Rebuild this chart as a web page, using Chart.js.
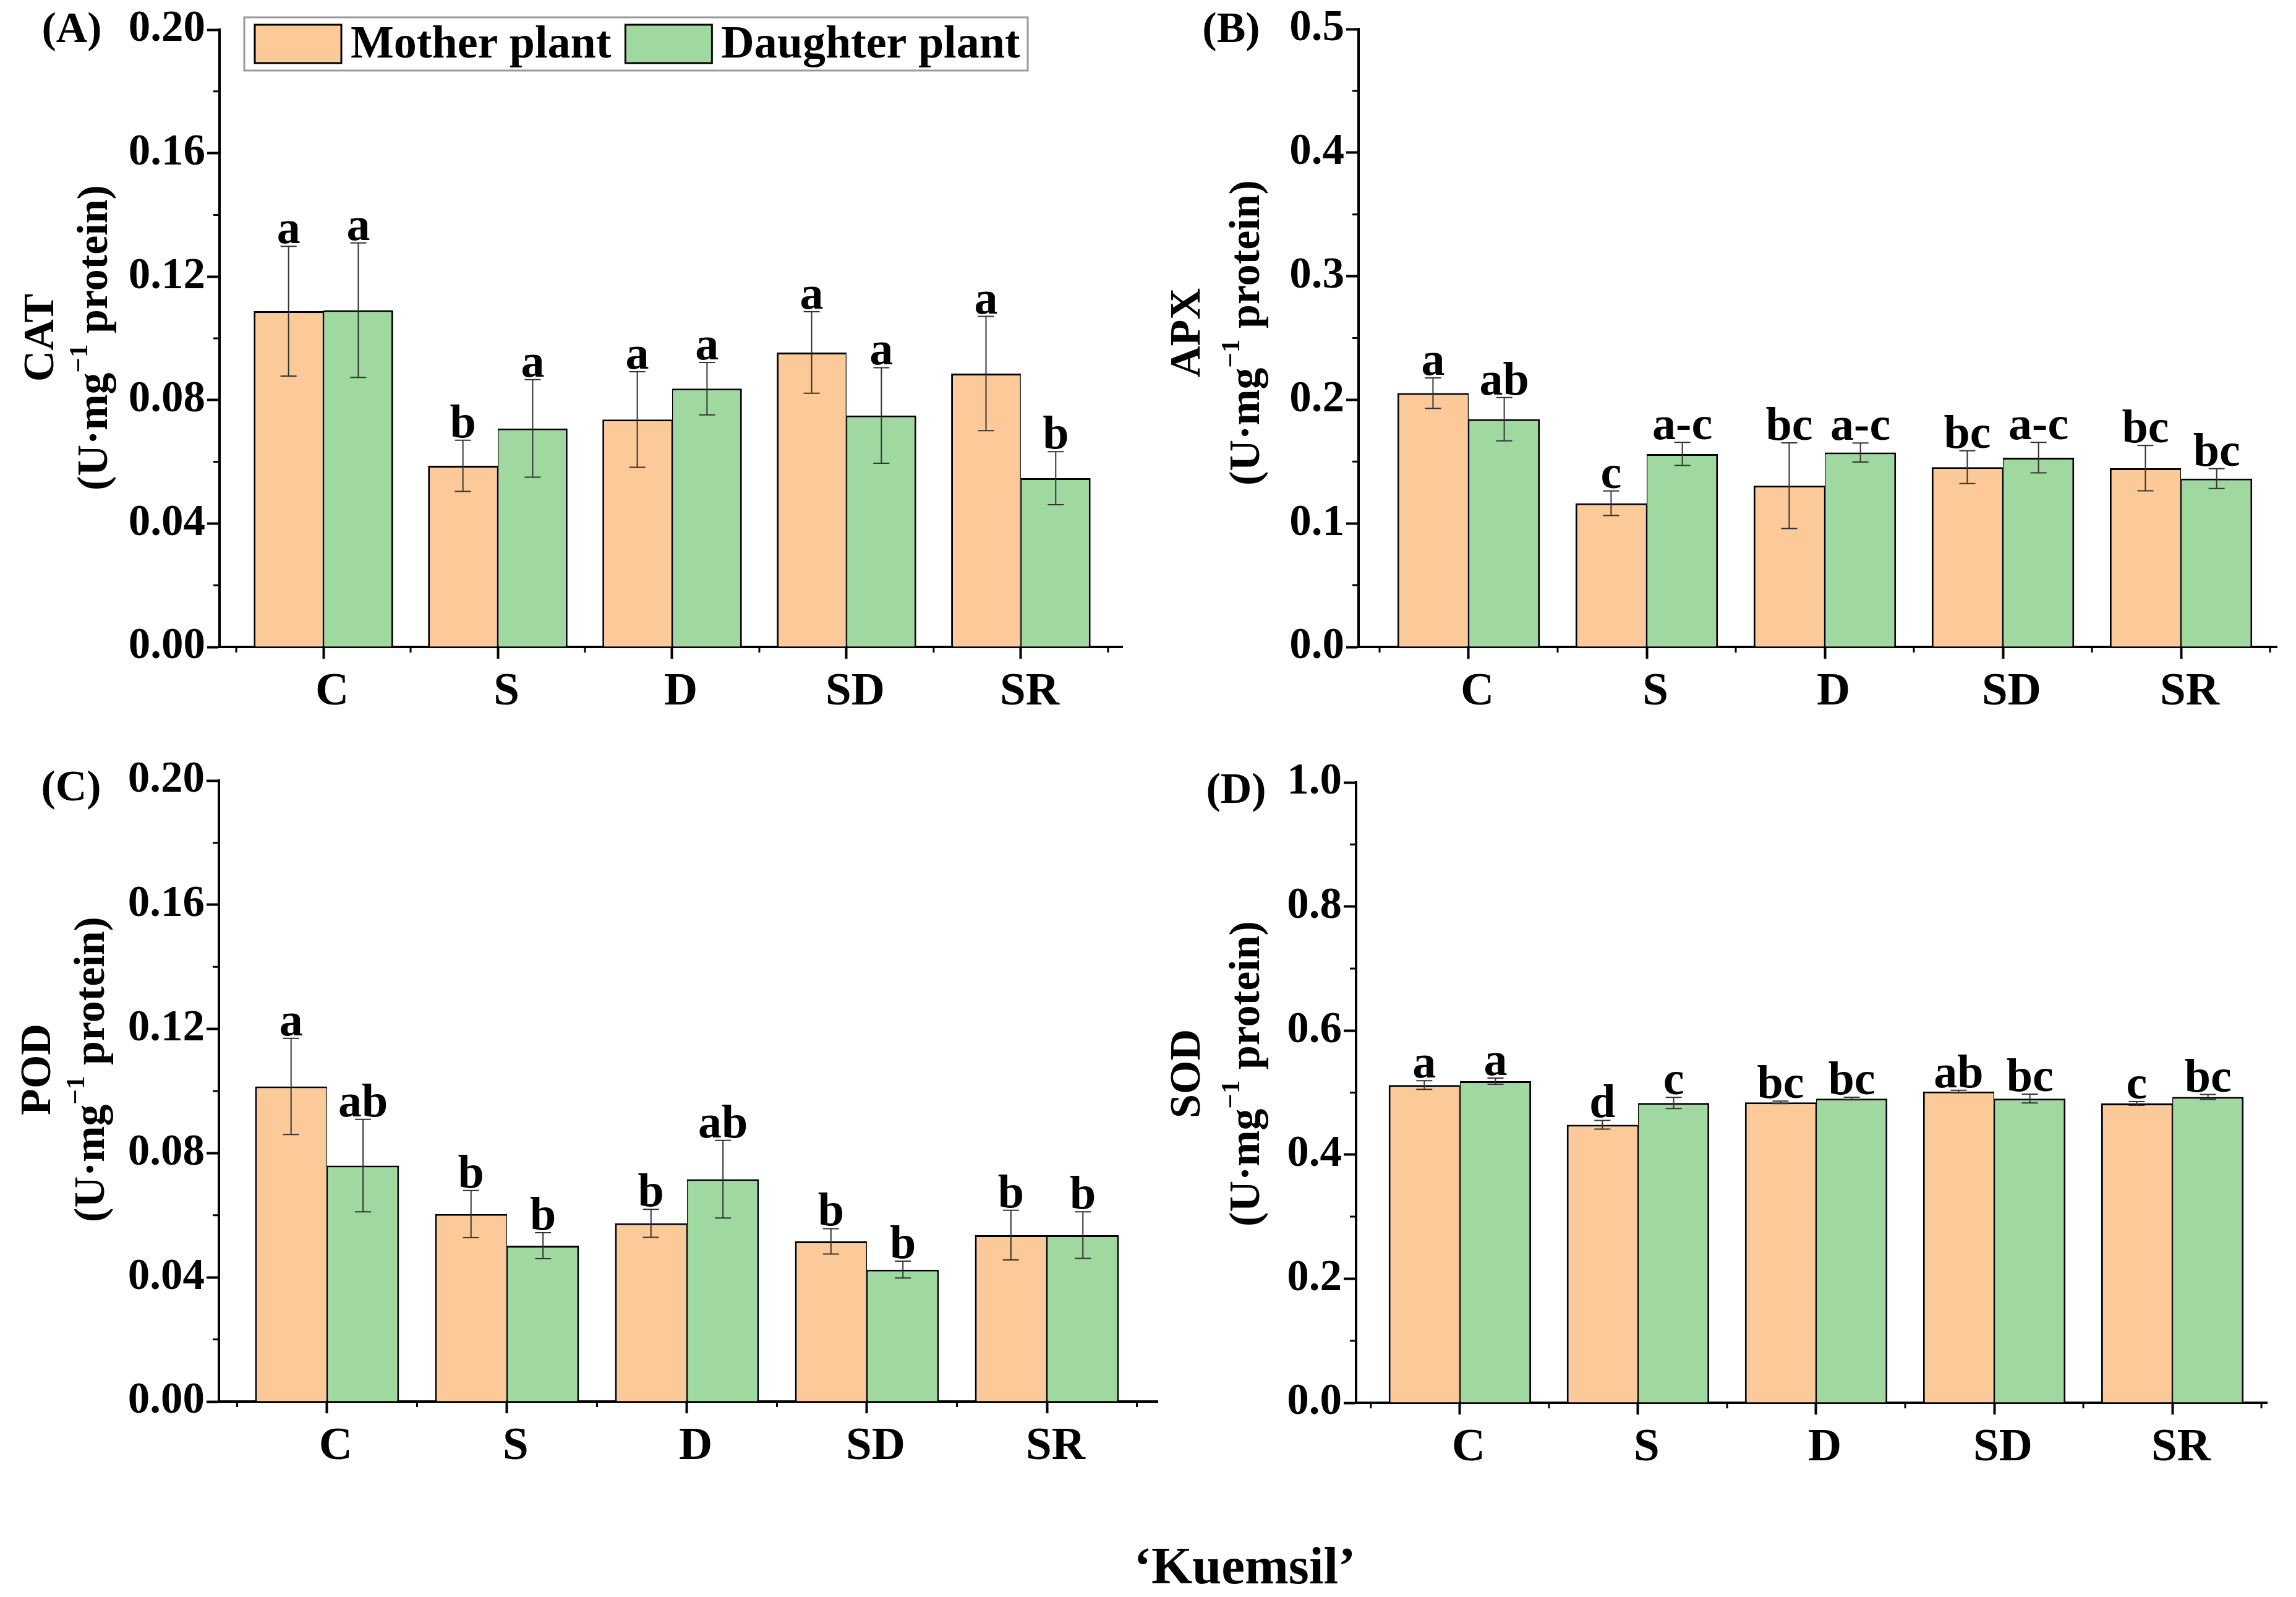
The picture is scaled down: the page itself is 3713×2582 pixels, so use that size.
<!DOCTYPE html>
<html><head><meta charset="utf-8">
<script src="https://cdn.jsdelivr.net/npm/chart.js@4.4.1/dist/chart.umd.min.js"></script>
<style>
html,body{margin:0;padding:0;background:#fff;}
#page{position:relative;width:3713px;height:2582px;overflow:hidden;background:#fff;}
canvas{position:absolute;}
#xlabel{position:absolute;left:2013px;top:2531px;transform:translate(-50%,-50%);font:bold 85px 'Liberation Serif','Times New Roman',serif;white-space:nowrap;color:#000;}
</style></head><body>
<div id="page">
<canvas id="cA" width="1900" height="1200" style="left:0;top:0"></canvas>
<canvas id="cB" width="1857" height="1200" style="left:1856px;top:0"></canvas>
<canvas id="cC" width="1900" height="1300" style="left:0;top:1200px"></canvas>
<canvas id="cD" width="1857" height="1300" style="left:1856px;top:1200px"></canvas>
<div id="xlabel">‘Kuemsil’</div>
</div>
<script>
// ---------- data ----------
const categories = ['C', 'S', 'D', 'SD', 'SR'];
const seriesNames = ['Mother plant', 'Daughter plant'];

const catMother      = [0.1088, 0.0587, 0.0737, 0.0954, 0.0886];
const catMotherErr   = [0.0210, 0.0083, 0.0155, 0.0132, 0.0185];
const catDaughter    = [0.1091, 0.0708, 0.0837, 0.0750, 0.0547];
const catDaughterErr = [0.0218, 0.0158, 0.0085, 0.0155, 0.0086];
const catMotherSig   = ['a', 'b', 'a', 'a', 'a'];
const catDaughterSig = ['a', 'a', 'a', 'a', 'b'];

const apxMother      = [0.2054, 0.1163, 0.1305, 0.1455, 0.1447];
const apxMotherErr   = [0.0123, 0.0100, 0.0347, 0.0133, 0.0183];
const apxDaughter    = [0.1843, 0.1562, 0.1574, 0.1532, 0.1363];
const apxDaughterErr = [0.0175, 0.0093, 0.0077, 0.0123, 0.0080];
const apxMotherSig   = ['a', 'c', 'bc', 'bc', 'bc'];
const apxDaughterSig = ['ab', 'a-c', 'a-c', 'a-c', 'bc'];

const podMother      = [0.1015, 0.0604, 0.0574, 0.0516, 0.0536];
const podMotherErr   = [0.0155, 0.0076, 0.0045, 0.0041, 0.0080];
const podDaughter    = [0.0760, 0.0502, 0.0716, 0.0425, 0.0536];
const podDaughterErr = [0.0149, 0.0042, 0.0125, 0.0027, 0.0075];
const podMotherSig   = ['a', 'b', 'b', 'b', 'b'];
const podDaughterSig = ['ab', 'b', 'ab', 'b', 'b'];

const sodMother      = [0.5123, 0.4482, 0.4842, 0.5018, 0.4825];
const sodMotherErr   = [0.0070, 0.0070, 0.0020, 0.0020, 0.0030];
const sodDaughter    = [0.5184, 0.4833, 0.4904, 0.4904, 0.4930];
const sodDaughterErr = [0.0050, 0.0090, 0.0020, 0.0070, 0.0040];
const sodMotherSig   = ['a', 'd', 'bc', 'ab', 'c'];
const sodDaughterSig = ['a', 'c', 'bc', 'bc', 'bc'];

const catTicks = [0, 0.04, 0.08, 0.12, 0.16, 0.20];
const apxTicks = [0, 0.1, 0.2, 0.3, 0.4, 0.5];
const podTicks = [0, 0.04, 0.08, 0.12, 0.16, 0.20];
const sodTicks = [0, 0.2, 0.4, 0.6, 0.8, 1.0];

// ---------- style ----------
const FONT = "'Liberation Serif','Times New Roman',serif";
const ORANGE = 'rgb(252,201,153)';
const GREEN = 'rgb(159,217,159)';

const errorBarPlugin = {
  id: 'errbars',
  afterDatasetsDraw(chart) {
    const ctx = chart.ctx, y = chart.scales.y;
    chart.data.datasets.forEach((ds, d) => {
      const meta = chart.getDatasetMeta(d);
      meta.data.forEach((bar, i) => {
        const v = ds.data[i].y, e = ds.errors[i];
        const yt = y.getPixelForValue(v + e), yb = y.getPixelForValue(v - e);
        ctx.save();
        ctx.strokeStyle = '#333'; ctx.lineWidth = 2;
        ctx.beginPath();
        ctx.moveTo(bar.x, yt); ctx.lineTo(bar.x, yb);
        ctx.moveTo(bar.x - 13, yt); ctx.lineTo(bar.x + 13, yt);
        ctx.moveTo(bar.x - 13, yb); ctx.lineTo(bar.x + 13, yb);
        ctx.stroke();
        ctx.font = `bold 76px ${FONT}`; ctx.fillStyle = '#000';
        ctx.textAlign = 'center'; ctx.textBaseline = 'alphabetic';
        ctx.fillText(ds.sig[i], bar.x, yt - 5);
        ctx.restore();
      });
    });
  }
};

const minorTickPlugin = {
  id: 'minor',
  afterDraw(chart) {
    const ctx = chart.ctx, x = chart.scales.x, y = chart.scales.y, ca = chart.chartArea;
    const ticks = chart.options.plugins.minor.ticks;
    ctx.save(); ctx.strokeStyle = '#000'; ctx.lineWidth = 3; ctx.beginPath();
    for (let k = 0; k < ticks.length - 1; k++) {
      const py = y.getPixelForValue((ticks[k] + ticks[k + 1]) / 2);
      ctx.moveTo(ca.left - 10, py); ctx.lineTo(ca.left, py);
    }
    for (let i = 0; i <= categories.length; i++) {
      const px = x.getPixelForValue(i - 0.5);
      ctx.moveTo(px, ca.bottom); ctx.lineTo(px, ca.bottom + 9);
    }
    ctx.stroke(); ctx.restore();
  }
};

const titlePlugin = {
  id: 'ytitle',
  afterDraw(chart) {
    const o = chart.options.plugins.ytitle;
    const ctx = chart.ctx;
    const f1 = `bold ${o.size}px ${FONT}`, f2 = `bold ${Math.round(o.size * 0.62)}px ${FONT}`;
    ctx.save(); ctx.fillStyle = '#000'; ctx.textBaseline = 'middle';
    ctx.translate(o.x1, o.cy); ctx.rotate(-Math.PI / 2);
    ctx.font = f1; ctx.textAlign = 'center'; ctx.fillText(o.name, 0, 0);
    ctx.restore();
    ctx.save(); ctx.fillStyle = '#000'; ctx.textBaseline = 'middle';
    ctx.translate(o.x2, o.cy); ctx.rotate(-Math.PI / 2);
    const parts = [['(U·mg', f1, 0], ['−1', f2, -o.size * 0.36], [' protein)', f1, 0]];
    let total = 0;
    parts.forEach(p => { ctx.font = p[1]; p.w = ctx.measureText(p[0]).width; total += p.w; });
    let cx = -total / 2; ctx.textAlign = 'left';
    parts.forEach(p => { ctx.font = p[1]; ctx.fillText(p[0], cx, p[2]); cx += p.w; });
    ctx.restore();
    ctx.save(); ctx.fillStyle = '#000'; ctx.font = `bold 70px ${FONT}`;
    ctx.textAlign = 'center'; ctx.textBaseline = 'middle';
    ctx.fillText(o.panel, o.px, o.py);
    ctx.restore();
  }
};

const boxLegendPlugin = {
  id: 'boxLegend',
  afterDraw(chart) {
    const o = chart.options.plugins.boxLegend;
    if (!o || !o.show) return;
    const ctx = chart.ctx;
    ctx.save();
    ctx.strokeStyle = '#9a9a9a'; ctx.lineWidth = 3;
    ctx.strokeRect(o.x, o.y, o.w, o.h);
    let x = o.x + 17;
    chart.data.datasets.forEach(ds => {
      ctx.fillStyle = ds.backgroundColor; ctx.fillRect(x, o.y + 12, 140, 62);
      ctx.strokeStyle = '#000'; ctx.lineWidth = 3; ctx.strokeRect(x, o.y + 12, 140, 62);
      ctx.fillStyle = '#000'; ctx.font = `bold 74px ${FONT}`;
      ctx.textBaseline = 'middle'; ctx.textAlign = 'left';
      ctx.fillText(ds.label, x + 155, o.y + o.h / 2 + 3);
      x += 155 + ctx.measureText(ds.label).width + 23;
    });
    ctx.restore();
  }
};

function makePanel(id, p) {
  const canvas = document.getElementById(id);
  const W = canvas.width, H = canvas.height, XH = 130;
  const mk = (vals) => vals.map((v, i) => ({ x: i, y: v }));
  new Chart(canvas.getContext('2d'), {
    type: 'bar',
    data: {
      datasets: [
        { label: seriesNames[0], data: mk(p.mother), errors: p.motherErr, sig: p.motherSig,
          backgroundColor: ORANGE, borderColor: '#000',
          borderWidth: { top: 3, left: 3, right: 1.5, bottom: 0 }, borderSkipped: 'start' },
        { label: seriesNames[1], data: mk(p.daughter), errors: p.daughterErr, sig: p.daughterSig,
          backgroundColor: GREEN, borderColor: '#000',
          borderWidth: { top: 3, left: 1.5, right: 3, bottom: 0 }, borderSkipped: 'start' }
      ]
    },
    options: {
      responsive: false, animation: false, devicePixelRatio: 1,
      categoryPercentage: 0.8, barPercentage: 1.0,
      layout: { padding: { left: 0, top: p.top, right: W - p.right, bottom: H - p.bottom - XH } },
      scales: {
        x: {
          type: 'linear', min: p.xmin, max: p.xmax, offset: false, z: 1,
          afterBuildTicks: s => { s.ticks = categories.map((c, i) => ({ value: i })); },
          afterFit: s => { s.height = XH; },
          ticks: { callback: v => categories[v] ?? '', autoSkip: false, maxRotation: 0, labelOffset: 14,
                   font: { family: FONT, weight: 'bold', size: 75 }, color: '#000', padding: 10 },
          grid: { offset: false, drawOnChartArea: false, drawTicks: true, tickLength: 19, tickWidth: 4, tickColor: '#000' },
          border: { display: true, color: '#000', width: 4 }
        },
        y: {
          min: p.ticks[0], max: p.ticks[p.ticks.length - 1], z: 1,
          afterBuildTicks: s => { s.ticks = p.ticks.map(v => ({ value: v })); },
          afterFit: s => { s.width = p.left; },
          ticks: { callback: v => v.toFixed(p.dec), font: { family: FONT, weight: 'bold', size: 71 },
                   color: '#000', padding: 3 },
          grid: { drawOnChartArea: false, drawTicks: true, tickLength: 20, tickWidth: 4, tickColor: '#000' },
          border: { display: true, color: '#000', width: 4 }
        }
      },
      plugins: {
        legend: { display: false }, tooltip: { enabled: false },
        minor: { ticks: p.ticks },
        ytitle: p.title,
        boxLegend: p.legend || { show: false }
      }
    },
    plugins: [errorBarPlugin, minorTickPlugin, titlePlugin, boxLegendPlugin]
  });
}

makePanel('cA', {
  mother: catMother, motherErr: catMotherErr, motherSig: catMotherSig,
  daughter: catDaughter, daughterErr: catDaughterErr, daughterSig: catDaughterSig,
  ticks: catTicks, dec: 2,
  left: 355, top: 48, bottom: 1046, right: 1815, xmin: -0.596, xmax: 4.582,
  title: { name: 'CAT', size: 70, x1: 68, x2: 155, cy: 546, panel: '(A)', px: 116, py: 50 },
  legend: { show: true, x: 395, y: 28, w: 1267, h: 86 }
});
makePanel('cB', {
  mother: apxMother, motherErr: apxMotherErr, motherSig: apxMotherSig,
  daughter: apxDaughter, daughterErr: apxDaughterErr, daughterSig: apxDaughterSig,
  ticks: apxTicks, dec: 1,
  left: 341, top: 47, bottom: 1046, right: 1826, xmin: -0.618, xmax: 4.538,
  title: { name: 'APX', size: 70, x1: 66, x2: 162, cy: 538, panel: '(B)', px: 135, py: 50 }
});
makePanel('cC', {
  mother: podMother, motherErr: podMotherErr, motherSig: podMotherSig,
  daughter: podDaughter, daughterErr: podDaughterErr, daughterSig: podDaughterSig,
  ticks: podTicks, dec: 2,
  left: 354, top: 62, bottom: 1066, right: 1872, xmin: -0.601, xmax: 4.615,
  title: { name: 'POD', size: 70, x1: 63, x2: 150, cy: 529, panel: '(C)', px: 115, py: 76 }
});
makePanel('cD', {
  mother: sodMother, motherErr: sodMotherErr, motherSig: sodMotherSig,
  daughter: sodDaughter, daughterErr: sodDaughterErr, daughterSig: sodDaughterSig,
  ticks: sodTicks, dec: 1,
  left: 337, top: 65, bottom: 1068, right: 1810, xmin: -0.583, xmax: 4.531,
  title: { name: 'SOD', size: 70, x1: 66, x2: 162, cy: 536, panel: '(D)', px: 143, py: 80 }
});
</script>
</body></html>
